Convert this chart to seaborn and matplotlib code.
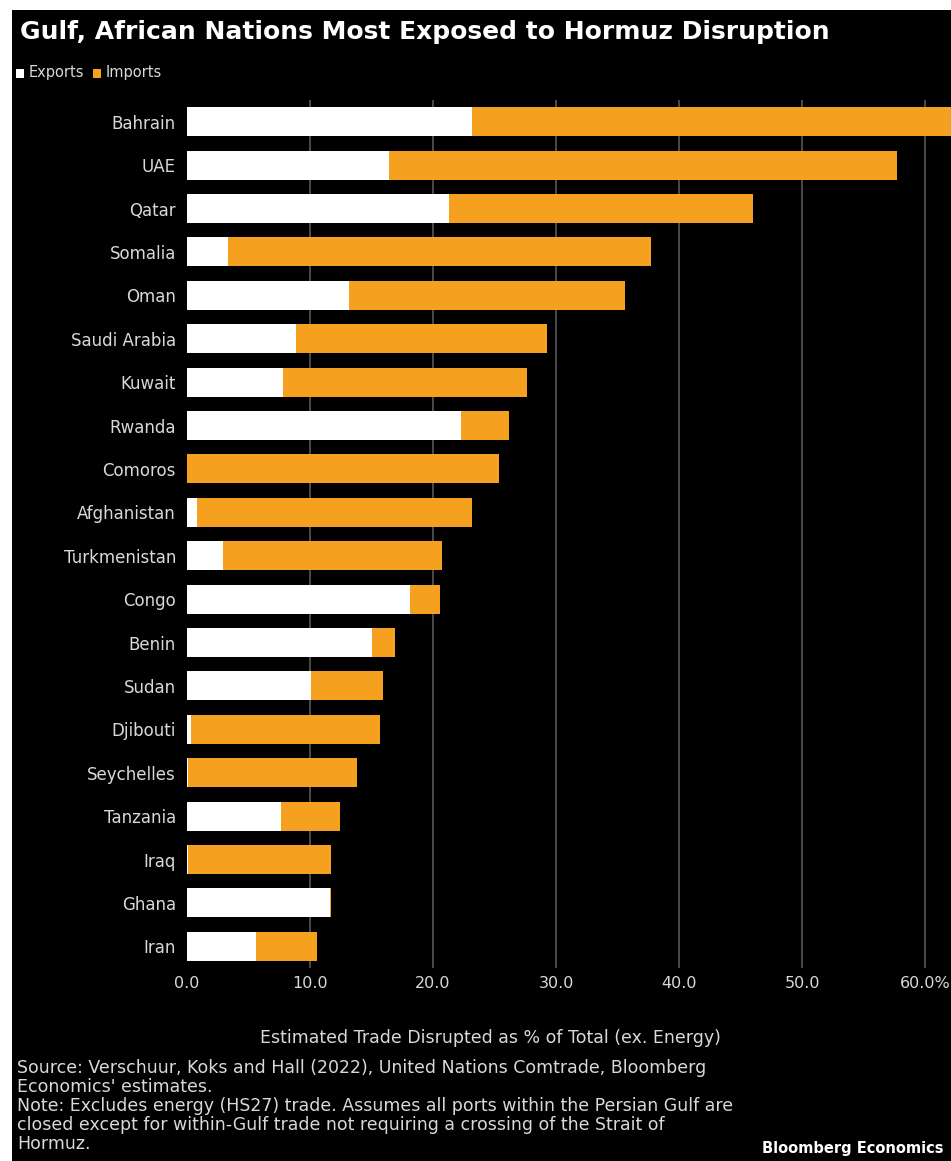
import matplotlib
matplotlib.use("Agg")
import matplotlib.pyplot as plt
import seaborn as sns
import pandas as pd
from matplotlib.patches import Rectangle

countries = ["Bahrain", "UAE", "Qatar", "Somalia", "Oman", "Saudi Arabia", "Kuwait",
             "Rwanda", "Comoros", "Afghanistan", "Turkmenistan", "Congo", "Benin",
             "Sudan", "Djibouti", "Seychelles", "Tanzania", "Iraq", "Ghana", "Iran"]
exports = [23.2, 16.4, 21.3, 3.3, 13.2, 8.9, 7.8, 22.3, 0.0, 0.8, 2.9, 18.1, 15.0,
           10.1, 0.3, 0.1, 7.6, 0.1, 11.6, 5.6]
imports = [39.8, 41.3, 24.7, 34.4, 22.4, 20.4, 19.8, 3.9, 25.4, 22.4, 17.8, 2.5, 1.9,
           5.8, 15.4, 13.7, 4.8, 11.6, 0.1, 5.0]
xticks = [0, 10, 20, 30, 40, 50, 60]
xtick_labels = ["0.0", "10.0", "20.0", "30.0", "40.0", "50.0", "60.0%"]

df = pd.DataFrame({"country": countries, "exports": exports, "imports": imports})
df["total"] = df["exports"] + df["imports"]

ORANGE = "#f5a01e"
TEXT = "#d9d9d9"
W, H = 951, 1161

sns.set_theme(style="dark")
plt.rcParams["font.family"] = ["DejaVu Sans"]

fig = plt.figure(figsize=(W / 100, H / 100), dpi=100, facecolor="white")
fig.patches.append(Rectangle((12 / W, 0), 1, 1 - 10 / H, transform=fig.transFigure,
                             facecolor="black", edgecolor="none", zorder=-10))

ax = fig.add_axes([187 / W, 1 - 968 / H, (W - 187) / W, (968 - 100) / H])
ax.set_facecolor("black")

# total first (orange), exports drawn over it (white)
sns.barplot(data=df, x="total", y="country", color=ORANGE, orient="h",
            width=0.67, saturation=1, linewidth=0, ax=ax, zorder=3)
sns.barplot(data=df, x="exports", y="country", color="white", orient="h",
            width=0.67, saturation=1, linewidth=0, ax=ax, zorder=4)

ax.set_xlim(0, 62.1)
ax.set_xticks(xticks)
ax.set_xticklabels(xtick_labels)
ax.grid(axis="x", color="#5f5f5f", linewidth=1.1, zorder=0)
ax.grid(axis="y", visible=False)
ax.xaxis.get_gridlines()[0].set_visible(False)
for s in ax.spines.values():
    s.set_visible(False)
ax.tick_params(axis="both", length=0, colors=TEXT)
ax.tick_params(axis="x", pad=6, labelsize=11.5)
ax.tick_params(axis="y", pad=8, labelsize=12)
ax.set_ylabel("")
ax.set_xlabel("Estimated Trade Disrupted as % of Total (ex. Energy)",
              color=TEXT, fontsize=12.5)
ax.xaxis.set_label_coords((490 - 187) / (W - 187), -(1029 - 968) / (968 - 100))

fig.text(20 / W, 1 - 32 / H, "Gulf, African Nations Most Exposed to Hormuz Disruption",
         color="white", fontsize=18, fontweight="bold", va="center", ha="left")

# legend
fig.patches.append(Rectangle((16 / W, 1 - 78 / H), 8 / W, 9 / H, transform=fig.transFigure,
                             facecolor="white", edgecolor="none"))
fig.text(29 / W, 1 - 73 / H, "Exports", color=TEXT, fontsize=10.5, va="center")
fig.patches.append(Rectangle((93 / W, 1 - 78 / H), 8 / W, 9 / H, transform=fig.transFigure,
                             facecolor=ORANGE, edgecolor="none"))
fig.text(106 / W, 1 - 73 / H, "Imports", color=TEXT, fontsize=10.5, va="center")

notes = [
    "Source: Verschuur, Koks and Hall (2022), United Nations Comtrade, Bloomberg",
    "Economics' estimates.",
    "Note: Excludes energy (HS27) trade. Assumes all ports within the Persian Gulf are",
    "closed except for within-Gulf trade not requiring a crossing of the Strait of",
    "Hormuz.",
]
for i, line in enumerate(notes):
    fig.text(17 / W, 1 - (1068 + 19 * i) / H, line, color=TEXT, fontsize=12.5, va="center")

fig.text(944 / W, 1 - 1148 / H, "Bloomberg Economics", color="white", fontsize=10.5,
         fontweight="bold", va="center", ha="right")

fig.savefig("out.png", dpi=100, facecolor=fig.get_facecolor())
